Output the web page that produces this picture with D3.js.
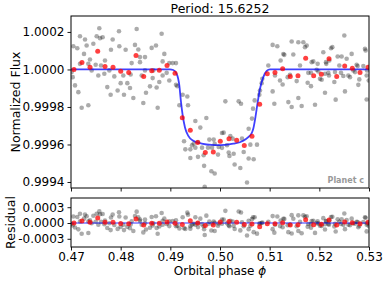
<!DOCTYPE html>
<html>
<head>
<meta charset="utf-8">
<script src="https://cdn.jsdelivr.net/npm/d3@7"></script>
<style>
  body { margin: 0; background: #fff; }
  text { font-family: "DejaVu Sans", sans-serif; }
</style>
</head>
<body>
<div id="chart"></div>
<script>
var titleText = "Period: 15.6252";
var planetLabel = "Planet c";

var phaseTicks = [0.47, 0.48, 0.49, 0.50, 0.51, 0.52, 0.53];
var phaseTickLabels = ["0.47", "0.48", "0.49", "0.50", "0.51", "0.52", "0.53"];
var fluxTicks = [0.9994, 0.9996, 0.9998, 1.0000, 1.0002];
var fluxTickLabels = ["0.9994", "0.9996", "0.9998", "1.0000", "1.0002"];
var residTicks = [-0.0003, 0, 0.0003];
var residTickLabels = ["-0.0003", "0.0000", "0.0003"];

// transit model
var modelPhase = [0.47, 0.48993, 0.49060, 0.49128, 0.49181, 0.49215, 0.49249, 0.49295, 0.49362,
  0.49462, 0.49632, 0.49833, 0.50020, 0.50268, 0.50469, 0.50564, 0.50638, 0.50671, 0.50719,
  0.50759, 0.50805, 0.50872, 0.50940, 0.51007, 0.53];
var modelFlux = [1.0, 1.0, 0.999997, 0.999977, 0.999915, 0.999826, 0.999755, 0.999691, 0.999646,
  0.999620, 0.999605, 0.999598, 0.999597, 0.999604, 0.999620, 0.999638, 0.999660, 0.999685, 0.999755,
  0.999826, 0.999897, 0.999959, 0.999992, 1.0, 1.0];

// binned points (red)
var binPhase = [0.47060, 0.47221, 0.47383, 0.47538, 0.47685, 0.47846, 0.48001, 0.48162, 0.48309,
  0.48464, 0.48625, 0.48778, 0.48933, 0.49094, 0.49241, 0.49402, 0.49551, 0.49704, 0.49865,
  0.50006, 0.50181, 0.50336, 0.50489, 0.50644, 0.50799, 0.50952, 0.51107, 0.51262, 0.51415,
  0.51570, 0.51725, 0.51886, 0.52040, 0.52195, 0.52350, 0.52511, 0.52664, 0.52819, 0.52980];
var binFlux = [1.000000, 1.000037, 1.000012, 1.000097, 1.000016, 1.000012, 0.999991, 0.999984, 1.000074,
  0.999963, 0.999993, 0.999996, 1.000021, 0.999980, 0.999742, 0.999676, 0.999610, 0.999557, 0.999560,
  0.999617, 0.999631, 0.999622, 0.999594, 0.999644, 0.999815, 0.999977, 0.999984, 1.000004, 0.999963,
  0.999966, 1.000060, 0.999966, 0.999975, 1.000057, 0.999963, 1.000018, 1.000007, 0.999984, 1.000012];

// unbinned points (grey)
var rawPhase = [
  0.47570, 0.47966, 0.48322, 0.47181, 0.47282, 0.47517, 0.47637, 0.47584, 0.47839, 0.47047,
  0.47127, 0.47315, 0.47450, 0.47805, 0.47973, 0.48100, 0.48288, 0.48355, 0.47262, 0.47382,
  0.47684, 0.48389, 0.48490, 0.47181, 0.47349, 0.47497, 0.47604, 0.48221, 0.48389, 0.47013,
  0.47034, 0.47416, 0.47550, 0.47671, 0.47772, 0.47872, 0.48053, 0.48201, 0.48423, 0.47081,
  0.47148, 0.47731, 0.47798, 0.47939, 0.48000, 0.48067, 0.48134, 0.48188, 0.48255, 0.48510,
  0.47215, 0.47349, 0.48456,
  0.48825, 0.48624, 0.48711, 0.48879, 0.48845, 0.48979, 0.49047, 0.49114, 0.48490, 0.48657,
  0.48845, 0.48926, 0.48644, 0.48979, 0.48778, 0.49114, 0.49141, 0.48590, 0.48724, 0.49248,
  0.49342, 0.48745,
  0.49182, 0.49356, 0.49504, 0.49725, 0.49604, 0.50108, 0.50376, 0.50423, 0.50698, 0.50665,
  0.50644, 0.50577, 0.50040, 0.50074, 0.50208, 0.50255, 0.49276, 0.49437, 0.49470, 0.49557,
  0.49302, 0.49403, 0.49504, 0.49638, 0.49785, 0.49873, 0.49893, 0.49759, 0.49839, 0.49973,
  0.50040, 0.50141, 0.50443, 0.50611, 0.50745, 0.49403, 0.49557, 0.49671, 0.49960, 0.50175,
  0.50275, 0.50190, 0.50477, 0.50577, 0.50678, 0.49680, 0.50295, 0.50409, 0.49826, 0.49893,
  0.50544, 0.49692,
  0.51060, 0.51154, 0.51443, 0.51221, 0.51295, 0.51476, 0.50973, 0.51107, 0.51208, 0.51261,
  0.51362, 0.50852, 0.50839, 0.50805, 0.51060, 0.50792, 0.51094, 0.51376, 0.51443, 0.51275,
  0.51409,
  0.52503, 0.52919, 0.52932, 0.51577, 0.51678, 0.51745, 0.51711, 0.52080, 0.52235, 0.52262,
  0.52369, 0.52449, 0.52550, 0.52651, 0.52201, 0.52134, 0.52140, 0.51846, 0.51879, 0.51966,
  0.51611, 0.52402, 0.52751, 0.52771, 0.52886, 0.51778, 0.51832, 0.51946, 0.51980, 0.52013,
  0.52047, 0.52114, 0.52181, 0.52195, 0.52315, 0.52436, 0.52483, 0.52584, 0.52617, 0.52684,
  0.52718, 0.52805, 0.52785, 0.52953, 0.52960, 0.52995, 0.51544, 0.51765, 0.51832, 0.52302,
  0.52114, 0.52516, 0.51577, 0.51644, 0.51913, 0.52329, 0.52953];
var rawFlux = [
  1.000220, 1.000204, 1.000216, 1.000177, 1.000160, 1.000177, 1.000172, 1.000167, 1.000160, 1.000124,
  1.000113, 1.000128, 1.000137, 1.000105, 1.000124, 1.000105, 1.000131, 1.000106, 1.000083, 1.000053,
  1.000048, 1.000066, 1.000066, 1.000030, 1.000030, 1.000025, 1.000021, 1.000034, 1.000039, 0.999986,
  0.999959, 0.999995, 0.999968, 0.999977, 0.999995, 0.999963, 0.999968, 0.999973, 0.999968, 0.999915,
  0.999879, 0.999906, 0.999865, 0.999888, 0.999927, 0.999865, 0.999927, 0.999901, 0.999848, 0.999876,
  0.999796, 0.999809, 0.999821,
  1.000190, 1.000115, 1.000128, 1.000083, 1.000043, 1.000034, 1.000034, 1.000034, 0.999995, 0.999995,
  0.999968, 0.999982, 0.999954, 0.999941, 0.999933, 0.999918, 0.999911, 0.999910, 0.999904, 0.999865,
  0.999856, 0.999796,
  0.999809, 0.999809, 0.999725, 0.999741, 0.999690, 0.999830, 0.999830, 0.999817, 0.999835, 0.999791,
  0.999738, 0.999684, 0.999661, 0.999663, 0.999645, 0.999631, 0.999617, 0.999596, 0.999605, 0.999613,
  0.999574, 0.999574, 0.999583, 0.999583, 0.999626, 0.999626, 0.999603, 0.999583, 0.999583, 0.999587,
  0.999582, 0.999596, 0.999631, 0.999599, 0.999599, 0.999528, 0.999534, 0.999543, 0.999546, 0.999557,
  0.999551, 0.999539, 0.999560, 0.999525, 0.999521, 0.999486, 0.999493, 0.999475, 0.999457, 0.999445,
  0.999397, 0.999374,
  1.000131, 1.000124, 1.000149, 1.000048, 1.000078, 1.000080, 1.000021, 0.999968, 0.999941, 0.999920,
  0.999959, 0.999950, 0.999927, 0.999888, 0.999883, 0.999865, 0.999817, 0.999826, 0.999800, 1.000082,
  0.999972,
  1.000181, 1.000110, 1.000101, 1.000145, 1.000145, 1.000128, 1.000119, 1.000092, 1.000113, 1.000119,
  1.000069, 1.000069, 1.000057, 1.000083, 1.000048, 1.000039, 1.000030, 1.000039, 1.000043, 1.000030,
  1.000021, 1.000021, 1.000025, 1.000018, 1.000018, 0.999982, 0.999982, 0.999998, 0.999989, 0.999950,
  0.999945, 0.999977, 0.999982, 0.999968, 0.999986, 0.999982, 0.999965, 0.999968, 0.999959, 0.999995,
  0.999986, 0.999947, 0.999918, 0.999968, 0.999995, 0.999941, 0.999938, 0.999929, 0.999911, 0.999933,
  0.999876, 0.999883, 0.999848, 0.999805, 0.999812, 0.999839, 0.999840];

var _width = 387, _height = 284;
var left = 71, right = 369;
var mainTop = 16, mainBottom = 188;
var resTop = 198, resBottom = 247;

var svg = d3.select("#chart").append("svg")
  .attr("width", _width)
  .attr("height", _height);

svg.append("rect").attr("width", _width).attr("height", _height).attr("fill", "#fff");

var x = d3.scaleLinear().domain([0.47, 0.53]).range([left, right]);
var yMain = d3.scaleLinear().domain([0.999368, 1.000285]).range([mainBottom, mainTop]);
var yRes = d3.scaleLinear().domain([-0.000456, 0.000475]).range([resBottom, resTop]);

// model as piecewise scale, used for the residuals
var model = d3.scaleLinear().domain(modelPhase).range(modelFlux);

var raw = rawPhase.map(function (p, i) { return {x: p, y: rawFlux[i], r: rawFlux[i] - model(p)}; });
var bins = binPhase.map(function (p, i) { return {x: p, y: binFlux[i], r: binFlux[i] - model(p)}; });
var modelPts = modelPhase.map(function (p, i) { return {x: p, y: modelFlux[i]}; });

var defs = svg.append("defs");
defs.append("clipPath").attr("id", "clip-main").append("rect")
  .attr("x", left).attr("y", mainTop).attr("width", right - left).attr("height", mainBottom - mainTop);
defs.append("clipPath").attr("id", "clip-res").append("rect")
  .attr("x", left).attr("y", resTop).attr("width", right - left).attr("height", resBottom - resTop);

function drawPanel(yScale, top, bottom, ticks, labels, showX) {
  var g = svg.append("g").attr("class", "axes");

  var yAxis = d3.axisLeft(yScale)
    .tickValues(ticks)
    .tickSize(3.5)
    .tickPadding(3)
    .tickFormat(function (d, i) { return labels[i]; });
  g.append("g")
    .attr("transform", "translate(" + left + ",0)")
    .call(yAxis);

  var xAxis = d3.axisBottom(x)
    .tickValues(phaseTicks)
    .tickSize(3.5)
    .tickPadding(1.5)
    .tickFormat(function (d, i) { return showX ? phaseTickLabels[i] : ""; });
  g.append("g")
    .attr("transform", "translate(0," + bottom + ")")
    .call(xAxis);

  g.selectAll(".domain").remove();
  g.selectAll(".tick line").attr("stroke", "#000").attr("stroke-width", 0.9);
  g.selectAll(".tick text")
    .attr("fill", "#000")
    .style("font-size", "12px")
    .style("font-family", "DejaVu Sans");

  // frame
  svg.append("rect")
    .attr("x", left)
    .attr("y", top)
    .attr("width", right - left)
    .attr("height", bottom - top)
    .attr("fill", "none")
    .attr("stroke", "#000")
    .attr("stroke-width", 1);
}

// ---- main panel
var mainG = svg.append("g").attr("clip-path", "url(#clip-main)");

mainG.selectAll("circle.raw")
  .data(raw)
  .enter().append("circle")
    .attr("class", "raw")
    .attr("cx", function (d) { return x(d.x); })
    .attr("cy", function (d) { return yMain(d.y); })
    .attr("r", 2.3)
    .attr("fill", "#000")
    .attr("fill-opacity", 0.33);

var line = d3.line()
  .x(function (d) { return x(d.x); })
  .y(function (d) { return yMain(d.y); })
  .curve(d3.curveMonotoneX);

mainG.append("path")
  .datum(modelPts)
  .attr("d", line)
  .attr("fill", "none")
  .attr("stroke", "#0000ff")
  .attr("stroke-opacity", 0.75)
  .attr("stroke-width", 1.8);

mainG.selectAll("circle.bin")
  .data(bins)
  .enter().append("circle")
    .attr("class", "bin")
    .attr("cx", function (d) { return x(d.x); })
    .attr("cy", function (d) { return yMain(d.y); })
    .attr("r", 2.5)
    .attr("fill", "#ff0000")
    .attr("fill-opacity", 0.75);

drawPanel(yMain, mainTop, mainBottom, fluxTicks, fluxTickLabels, false);

// ---- residual panel
var resG = svg.append("g").attr("clip-path", "url(#clip-res)");

resG.selectAll("circle.raw")
  .data(raw)
  .enter().append("circle")
    .attr("class", "raw")
    .attr("cx", function (d) { return x(d.x); })
    .attr("cy", function (d) { return yRes(d.r); })
    .attr("r", 2.3)
    .attr("fill", "#000")
    .attr("fill-opacity", 0.33);

resG.append("line")
  .attr("x1", left).attr("x2", right)
  .attr("y1", yRes(0)).attr("y2", yRes(0))
  .attr("stroke", "#0000ff")
  .attr("stroke-opacity", 0.8)
  .attr("stroke-width", 1.1);

resG.selectAll("circle.bin")
  .data(bins)
  .enter().append("circle")
    .attr("class", "bin")
    .attr("cx", function (d) { return x(d.x); })
    .attr("cy", function (d) { return yRes(d.r); })
    .attr("r", 2.5)
    .attr("fill", "#ff0000")
    .attr("fill-opacity", 0.75);

drawPanel(yRes, resTop, resBottom, residTicks, residTickLabels, true);

// ---- labels
svg.append("text")
  .attr("x", (left + right) / 2)
  .attr("y", 13)
  .attr("text-anchor", "middle")
  .style("font-size", "12.5px")
  .text(titleText);

svg.append("text")
  .attr("transform", "translate(19.5," + ((mainTop + mainBottom) / 2) + ") rotate(-90)")
  .attr("text-anchor", "middle")
  .style("font-size", "12.5px")
  .text("Normalized Flux");

svg.append("text")
  .attr("transform", "translate(15," + ((resTop + resBottom) / 2) + ") rotate(-90)")
  .attr("text-anchor", "middle")
  .style("font-size", "12.5px")
  .text("Residual");

var xl = svg.append("text")
  .attr("x", (left + right) / 2)
  .attr("y", 275)
  .attr("text-anchor", "middle")
  .style("font-size", "12px");
xl.append("tspan").text("Orbital phase ");
xl.append("tspan").style("font-style", "italic").text("\u03d5");

svg.append("text")
  .attr("x", right - 5)
  .attr("y", mainBottom - 5)
  .attr("text-anchor", "end")
  .attr("fill", "#999")
  .style("font-size", "8px")
  .style("font-weight", "bold")
  .text(planetLabel);
</script>
</body>
</html>
